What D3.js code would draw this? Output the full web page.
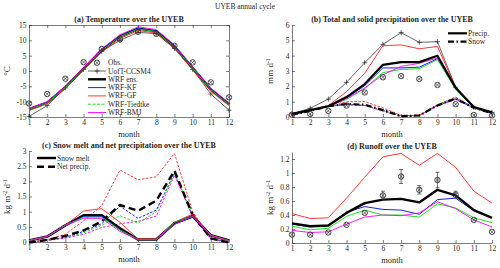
<!DOCTYPE html>
<meta charset="utf-8">
<head>
  <title>UYEB annual cycle</title>
</head>
<style>
body { margin: 0; background: #fff; }
svg text { font-family: "Liberation Serif", "Times New Roman", serif; fill: #262626; }
.axis path, .axis line { stroke: #262626; stroke-width: 0.6; }
</style>
<body>
<svg width="500" height="268"></svg>
<script src="https://cdnjs.cloudflare.com/ajax/libs/d3/7.8.5/d3.min.js"></script>
<script>
var months = [1, 2, 3, 4, 5, 6, 7, 8, 9, 10, 11, 12]
var models = ['WRF-KF', 'WRF-GF', 'WRF-Tiedtke', 'WRF-BMJ']
var modelColors = ['#0000ff', '#ff2020', '#00e000', '#ff00ff']

// (a) temperature, degC
var tempObs  = [-10.6, -7.5, -2.5, 2.9, 7.2, 10.3, 12.8, 12.1, 8.2, 2.8, -3.7, -8.6]
var tempCCSM = [-14.8, -11.3, -5.5, 0.5, 6.4, 10.0, 12.6, 12.2, 7.3, 0.5, -7.5, -12.8]
var tempEns  = [-12.5, -10.3, -5.3, 0.8, 6.8, 11.3, 13.8, 13.0, 8.0, 1.0, -6.0, -10.8]
var tempKF   = [-12.3, -10.2, -5.2, 0.9, 6.9, 11.4, 13.9, 13.1, 8.1, 1.1, -5.9, -10.7]
var tempGF   = [-12.9, -10.7, -5.7, 0.3, 6.2, 10.6, 13.2, 12.4, 7.4, 0.4, -6.6, -11.3]
var tempTi   = [-12.6, -10.4, -5.4, 0.7, 6.7, 11.2, 13.7, 12.9, 7.9, 0.9, -6.1, -10.9]
var tempBMJ  = [-12.2, -10.0, -5.0, 1.1, 7.2, 11.8, 14.4, 13.5, 8.5, 1.4, -5.6, -10.4]

// (b) precipitation and snowfall, mm/d
var prObs  = [0.15, 0.2, 0.4, 0.75, 1.6, 2.59, 2.67, 2.48, 2.09, 0.83, 0.13, 0.1]
var prCCSM = [0.2, 0.57, 1.17, 2.26, 3.54, 4.74, 5.5, 4.87, 4.91, 1.94, 0.63, 0.3]
var prEns  = [0.2, 0.45, 0.7, 1.3, 2.15, 3.4, 3.58, 3.58, 4.0, 1.9, 0.65, 0.3]
var prKF   = [0.2, 0.45, 0.7, 1.25, 2.05, 3.2, 3.2, 3.25, 3.8, 1.85, 0.6, 0.3]
var prGF   = [0.2, 0.45, 0.75, 1.65, 2.85, 4.65, 4.7, 4.45, 4.6, 1.95, 0.6, 0.3]
var prTi   = [0.2, 0.45, 0.7, 1.15, 1.85, 2.9, 3.1, 3.15, 3.75, 1.8, 0.6, 0.3]
var prBMJ  = [0.2, 0.45, 0.7, 1.2, 1.9, 2.75, 3.3, 3.5, 3.85, 1.95, 0.65, 0.25]
var snEns  = [0.15, 0.4, 0.7, 0.85, 0.8, 0.45, 0.05, 0.1, 0.75, 1.2, 0.6, 0.25]
var snKF   = [0.15, 0.4, 0.7, 0.85, 0.75, 0.45, 0.05, 0.1, 0.75, 1.15, 0.6, 0.25]
var snGF   = [0.15, 0.4, 0.75, 1.0, 1.0, 0.6, 0.1, 0.1, 0.8, 1.3, 0.6, 0.25]
var snTi   = [0.15, 0.4, 0.7, 0.8, 0.75, 0.4, 0.05, 0.1, 0.8, 1.25, 0.6, 0.25]
var snBMJ  = [0.15, 0.4, 0.7, 0.8, 0.75, 0.4, 0.05, 0.1, 0.75, 1.2, 0.6, 0.25]

// (c) snow melt and net precipitation, kg m-2 d-1
var smEns = [0.05, 0.18, 0.55, 0.88, 0.88, 0.45, 0.08, 0.08, 0.62, 0.85, 0.22, 0.05]
var smKF  = [0.05, 0.18, 0.55, 0.85, 0.85, 0.4, 0.08, 0.08, 0.6, 0.82, 0.22, 0.05]
var smGF  = [0.05, 0.18, 0.55, 1.02, 1.1, 0.65, 0.1, 0.1, 0.65, 0.92, 0.22, 0.05]
var smTi  = [0.05, 0.18, 0.55, 0.82, 0.82, 0.4, 0.08, 0.08, 0.65, 0.85, 0.22, 0.03]
var smBMJ = [0.05, 0.18, 0.55, 0.78, 0.78, 0.35, 0.08, 0.08, 0.58, 0.85, 0.22, 0.03]
var npEns = [-0.02, 0.07, 0.2, 0.38, 0.68, 1.22, 1.03, 1.36, 2.35, 0.89, 0.12, -0.02]
var npKF  = [-0.02, 0.07, 0.15, 0.35, 0.6, 1.18, 0.78, 1.05, 2.28, 0.85, 0.12, -0.02]
var npGF  = [0.0, 0.08, 0.25, 0.7, 1.2, 2.37, 2.05, 2.15, 2.92, 1.0, 0.12, 0.0]
var npTi  = [-0.02, 0.05, 0.13, 0.3, 0.55, 0.87, 0.62, 1.0, 2.25, 0.95, 0.1, -0.02]
var npBMJ = [-0.02, 0.05, 0.13, 0.25, 0.48, 0.6, 0.68, 0.85, 2.2, 0.85, 0.1, -0.02]

// (d) runoff, kg m-2 d-1
var roObs = [0.12, 0.12, 0.15, 0.26, 0.43, 0.68, 0.95, 0.76, 0.9, 0.69, 0.33, 0.16]
var roErr = [0, 0, 0, 0, 0, 0.06, 0.1, 0.06, 0.11, 0.05, 0, 0]
var roEns = [0.28, 0.24, 0.25, 0.43, 0.57, 0.62, 0.63, 0.58, 0.76, 0.68, 0.47, 0.36]
var roKF  = [0.27, 0.23, 0.25, 0.44, 0.52, 0.48, 0.47, 0.41, 0.62, 0.64, 0.46, 0.36]
var roGF  = [0.42, 0.35, 0.36, 0.64, 0.94, 1.23, 1.28, 1.11, 1.28, 1.08, 0.74, 0.57]
var roTi  = [0.24, 0.19, 0.21, 0.38, 0.47, 0.4, 0.4, 0.37, 0.56, 0.5, 0.36, 0.29]
var roBMJ = [0.18, 0.15, 0.16, 0.27, 0.37, 0.4, 0.39, 0.43, 0.59, 0.49, 0.33, 0.23]

var svg = d3.select('svg')
var fmt = function (d) { return String(d) }

svg.append('text').attr('x', 245).attr('y', 9).attr('text-anchor', 'middle')
  .style('font-size', '7.5px').text('UYEB annual cycle')

function panel(box, ydom, yticks, title, ylab) {
  var x = d3.scaleLinear().domain([1, 12]).range([box.x0, box.x1])
  var y = d3.scaleLinear().domain(ydom).range([box.y1, box.y0])
  var g = svg.append('g')

  g.append('g').attr('class', 'axis').attr('transform', 'translate(0,' + box.y1 + ')')
    .call(d3.axisBottom(x).tickValues(months).tickFormat(fmt).tickSize(-3).tickPadding(3).tickSizeOuter(0))
  g.append('g').attr('class', 'axis').attr('transform', 'translate(' + box.x0 + ',0)')
    .call(d3.axisLeft(y).tickValues(yticks).tickFormat(fmt).tickSize(-3).tickPadding(2.5).tickSizeOuter(0))
  if (box.box) {
    g.append('g').attr('class', 'axis').attr('transform', 'translate(0,' + box.y0 + ')')
      .call(d3.axisTop(x).tickValues(months).tickSize(-3).tickFormat('').tickSizeOuter(0))
    g.append('g').attr('class', 'axis').attr('transform', 'translate(' + box.x1 + ',0)')
      .call(d3.axisRight(y).tickValues(yticks).tickSize(-3).tickFormat('').tickSizeOuter(0))
  }
  g.selectAll('.axis text').style('font-size', '7.5px').attr('font-family', null)

  g.append('text').attr('x', (box.x0 + box.x1) / 2).attr('y', box.y0 - 3)
    .attr('text-anchor', 'middle').style('font-size', '8px').style('font-weight', 'bold')
    .text(title)
  g.append('text').attr('x', (box.x0 + box.x1) / 2).attr('y', box.y1 + 20)
    .attr('text-anchor', 'middle').style('font-size', '8.5px').text('month')

  var yl = g.append('text')
    .attr('transform', 'translate(' + (box.x0 - 19) + ',' + ((box.y0 + box.y1) / 2) + ') rotate(-90)')
    .attr('text-anchor', 'middle').style('font-size', '9px')
  ylab.forEach(function (p) {
    var t = yl.append('tspan').text(p[0])
    if (p[1]) t.attr('baseline-shift', 'super').style('font-size', '6px')
  })

  var plot = g.append('g')
  return {x: x, y: y, g: plot}
}

function line(p, data, color, width, dash) {
  var gen = d3.line().x(function (d, i) { return p.x(months[i]) }).y(function (d) { return p.y(d) })
  p.g.append('path').datum(data).attr('d', gen)
    .attr('fill', 'none').attr('stroke', color).attr('stroke-width', width)
    .attr('stroke-dasharray', dash || null).attr('stroke-linejoin', 'round')
}

function obsMarker(g, cx, cy) {
  var r = 2.7
  g.append('circle').attr('cx', cx).attr('cy', cy).attr('r', r)
    .attr('fill', 'none').attr('stroke', '#333').attr('stroke-width', 0.9)
  var k = r * 0.7
  g.append('path').attr('d', 'M' + (cx - k) + ',' + (cy - k) + 'L' + (cx + k) + ',' + (cy + k) +
    'M' + (cx - k) + ',' + (cy + k) + 'L' + (cx + k) + ',' + (cy - k))
    .attr('stroke', '#333').attr('stroke-width', 0.7)
}

function plusMarker(g, cx, cy) {
  g.append('path').attr('d', 'M' + (cx - 2.5) + ',' + cy + 'h5M' + cx + ',' + (cy - 2.5) + 'v5')
    .attr('stroke', '#222').attr('stroke-width', 0.7)
}

function obs(p, data) {
  data.forEach(function (d, i) { obsMarker(p.g, p.x(months[i]), p.y(d)) })
}

function ccsm(p, data) {
  line(p, data, '#222', 0.7)
  data.forEach(function (d, i) { plusMarker(p.g, p.x(months[i]), p.y(d)) })
}

// ---------- (a)
var pa = panel({x0: 29, x1: 229, y0: 25, y1: 117, box: true}, [-15, 15],
  [-15, -10, -5, 0, 5, 10, 15], '(a) Temperature over the UYEB', [['\u00b0C']])
ccsm(pa, tempCCSM)
line(pa, tempEns, '#000', 2.4)
;[tempKF, tempGF, tempTi, tempBMJ].forEach(function (s, i) { line(pa, s, modelColors[i], 0.9) })
obs(pa, tempObs)

var legA = ['Obs.', 'UofT-CCSM4', 'WRF ens.'].concat(models)
legA.forEach(function (name, i) {
  var ly = 62.7 + i * 8.3
  if (i === 0) obsMarker(svg, 97, ly)
  else if (i === 1) {
    svg.append('line').attr('x1', 88).attr('x2', 106).attr('y1', ly).attr('y2', ly)
      .attr('stroke', '#222').attr('stroke-width', 0.7)
    plusMarker(svg, 97, ly)
  } else {
    var c = i === 2 ? '#000' : modelColors[i - 3]
    svg.append('line').attr('x1', 88).attr('x2', 106).attr('y1', ly).attr('y2', ly)
      .attr('stroke', c).attr('stroke-width', i === 2 ? 2.4 : 0.9)
      .attr('stroke-dasharray', i === 5 ? '3,1.5' : null)
  }
  svg.append('text').attr('x', 108).attr('y', ly + 2.5).style('font-size', '7.5px').text(name)
})

// ---------- (b)
var pb = panel({x0: 292, x1: 492, y0: 25, y1: 117}, [0, 6], [0, 1, 2, 3, 4, 5, 6],
  '(b) Total and solid precipitation over the UYEB', [['mm d'], ['-1', true]])
ccsm(pb, prCCSM)
;[snKF, snGF, snTi, snBMJ].forEach(function (s, i) { line(pb, s, modelColors[i], 0.9, '2.5,1.5') })
line(pb, snEns, '#000', 2.2, '6,2.5,1.5,2.5')
;[prKF, prGF, prTi, prBMJ].forEach(function (s, i) { line(pb, s, modelColors[i], 0.9) })
line(pb, prEns, '#000', 2.2)
obs(pb, prObs)

svg.append('line').attr('x1', 448).attr('x2', 467).attr('y1', 33.3).attr('y2', 33.3)
  .attr('stroke', '#000').attr('stroke-width', 2.2)
svg.append('line').attr('x1', 448).attr('x2', 467).attr('y1', 41.7).attr('y2', 41.7)
  .attr('stroke', '#000').attr('stroke-width', 2.2).attr('stroke-dasharray', '6,2.5,1.5,2.5')
svg.append('text').attr('x', 468).attr('y', 35.8).style('font-size', '7.5px').text('Precip.')
svg.append('text').attr('x', 468).attr('y', 44.2).style('font-size', '7.5px').text('Snow')

// ---------- (c)
var pc = panel({x0: 29, x1: 229, y0: 151, y1: 242}, [0, 3], [0, 0.5, 1, 1.5, 2, 2.5, 3],
  '(c) Snow melt and net precipitation over the UYEB', [['kg m'], ['-2', true], [' d'], ['-1', true]])
;[npKF, npGF, npTi, npBMJ].forEach(function (s, i) { line(pc, s, modelColors[i], 0.9, '2.5,1.5') })
line(pc, npEns, '#000', 2.4, '7,4')
line(pc, smEns, '#000', 2.6)
;[smKF, smGF, smTi, smBMJ].forEach(function (s, i) { line(pc, s, modelColors[i], 0.9) })

svg.append('line').attr('x1', 37).attr('x2', 56).attr('y1', 158).attr('y2', 158)
  .attr('stroke', '#000').attr('stroke-width', 2.4)
svg.append('line').attr('x1', 37).attr('x2', 56).attr('y1', 166.7).attr('y2', 166.7)
  .attr('stroke', '#000').attr('stroke-width', 2.4).attr('stroke-dasharray', '7,4')
svg.append('text').attr('x', 57).attr('y', 160.5).style('font-size', '7.5px').text('Snow melt')
svg.append('text').attr('x', 57).attr('y', 169.2).style('font-size', '7.5px').text('Net precip.')

// ---------- (d)
var pd = panel({x0: 292, x1: 492, y0: 152, y1: 243}, [0, 1.3], [0, 0.2, 0.4, 0.6, 0.8, 1, 1.2],
  '(d) Runoff over the UYEB', [['kg m'], ['-2', true], [' d'], ['-1', true]])
;[roKF, roGF, roTi, roBMJ].forEach(function (s, i) { line(pd, s, modelColors[i], 0.9) })
line(pd, roEns, '#000', 2.4)
roObs.forEach(function (d, i) {
  if (roErr[i] > 0) {
    var cx = pd.x(months[i]), yt = pd.y(d + roErr[i]), yb = pd.y(d - roErr[i])
    pd.g.append('path').attr('d', 'M' + cx + ',' + yt + 'V' + yb +
      'M' + (cx - 2) + ',' + yt + 'h4M' + (cx - 2) + ',' + yb + 'h4')
      .attr('stroke', '#333').attr('stroke-width', 0.7).attr('fill', 'none')
  }
})
obs(pd, roObs)
</script>
</body>
</html>
